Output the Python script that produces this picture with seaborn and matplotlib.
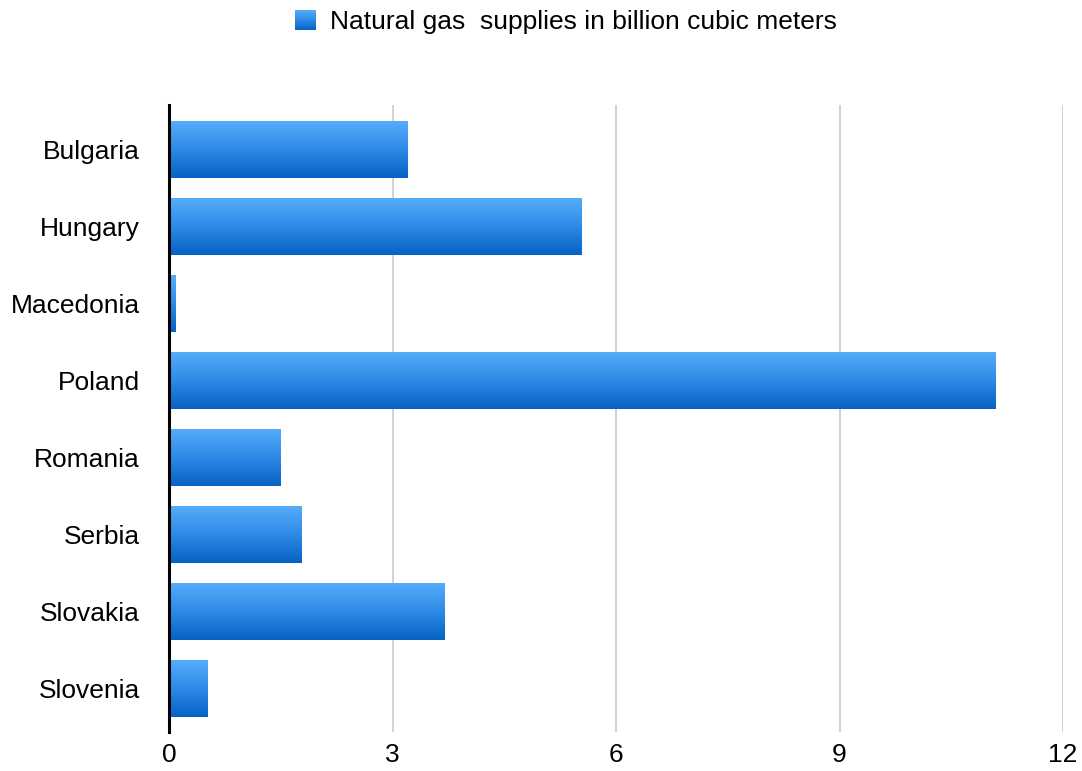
import numpy as np
import pandas as pd
import matplotlib
matplotlib.use("Agg")
import matplotlib.pyplot as plt
import seaborn as sns
from matplotlib.colors import LinearSegmentedColormap
from matplotlib.patches import Patch
from matplotlib.legend_handler import HandlerBase
from matplotlib.image import BboxImage
from matplotlib.transforms import Bbox, TransformedBbox

countries = ["Bulgaria", "Hungary", "Macedonia", "Poland", "Romania",
             "Serbia", "Slovakia", "Slovenia"]
supplies = [3.2, 5.54, 0.09, 11.1, 1.5, 1.78, 3.7, 0.52]
x_ticks = [0, 3, 6, 9, 12]
series_name = "Natural gas  supplies in billion cubic meters"

df = pd.DataFrame({"country": countries, "supply": supplies})

# light-to-dark blue shading used on every bar (top -> bottom)
blue_grad = LinearSegmentedColormap.from_list("blue_grad", ["#56acfa", "#2d8ae6", "#0661c4"])
grad = np.linspace(0, 1, 256).reshape(-1, 1)

sns.set_theme(style="white")
plt.rcParams["font.family"] = ["Liberation Sans", "DejaVu Sans"]
plt.rcParams["text.color"] = "black"

fig = plt.figure(figsize=(10.82, 7.71), dpi=100)
ax = fig.add_axes([169 / 1082, 1 - 732 / 771, (1063 - 169) / 1082, (732 - 105) / 771])

sns.barplot(data=df, y="country", x="supply", orient="h", color="#2d8ae6",
            width=0.74, ax=ax, zorder=3)

# replace flat fill with a vertical gradient clipped to each bar
for bar in list(ax.patches):
    x0, y0 = bar.get_x(), bar.get_y()
    w, h = bar.get_width(), bar.get_height()
    bar.set_facecolor("none")
    bar.set_edgecolor("none")
    img = ax.imshow(grad, cmap=blue_grad, aspect="auto", origin="upper",
                    extent=(x0, x0 + w, y0 + h, y0), interpolation="bicubic", zorder=3)
    img.set_clip_path(bar)

ax.set_xlim(0, 12)
ax.set_ylim(7.57, -0.58)
ax.set_xticks(x_ticks)
ax.set_xticklabels([str(t) for t in x_ticks])
ax.set_xlabel("")
ax.set_ylabel("")

ax.grid(axis="x", color="#d2d2d2", linewidth=1.4, zorder=0)
ax.grid(axis="y", visible=False)
for side in ["top", "right", "bottom"]:
    ax.spines[side].set_visible(False)
ax.spines["left"].set_color("black")
ax.spines["left"].set_linewidth(2.2)
ax.spines["left"].set_zorder(4)

ax.tick_params(axis="y", length=0, pad=21, labelsize=19, labelcolor="black")
ax.tick_params(axis="x", length=0, pad=8, labelsize=19, labelcolor="black")


class GradientSquareHandler(HandlerBase):
    def create_artists(self, legend, orig_handle, xdescent, ydescent,
                       width, height, fontsize, trans):
        bb = TransformedBbox(Bbox.from_bounds(-xdescent, -ydescent, width, height), trans)
        image = BboxImage(bb, cmap=blue_grad, interpolation="bicubic")
        image.set_data(grad)
        return [image]


handle = Patch(facecolor="#2d8ae6", label=series_name)
fig.legend(handles=[handle], labels=[series_name], loc="center",
           bbox_to_anchor=(0.5227, 1 - 22 / 771), frameon=False, fontsize=19,
           labelcolor="black",
           handlelength=0.76, handleheight=0.76, handletextpad=0.57,
           handler_map={Patch: GradientSquareHandler()})

fig.savefig("out.png", dpi=100)
